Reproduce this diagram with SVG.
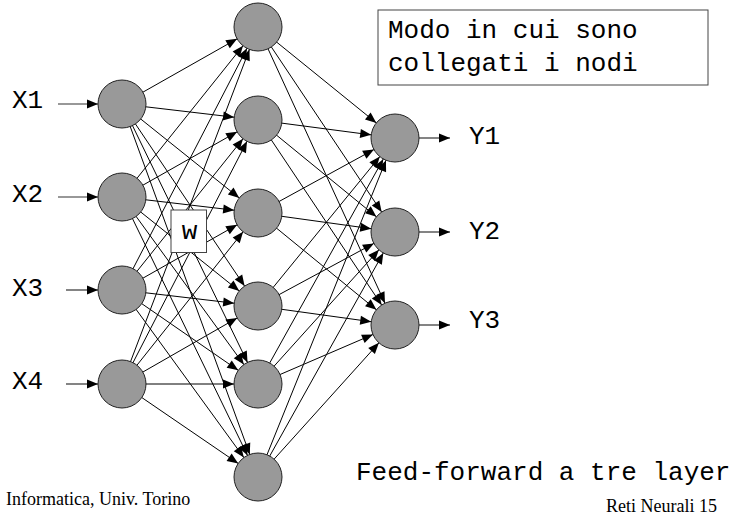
<svg xmlns="http://www.w3.org/2000/svg" width="741" height="517" viewBox="0 0 741 517">
  <style>
    .node { fill: #999999; stroke: #222; stroke-width: 1; }
    .edge { stroke: #000; stroke-width: 1; fill: none; marker-end: url(#head); }
    .io { stroke: #333; stroke-width: 1.2; fill: none; marker-end: url(#tip); }
    .mono { font-family: "Liberation Mono", "Courier New", monospace; font-size: 26px; fill: #000; }
    .serif { font-family: "Liberation Serif", "Times New Roman", serif; font-size: 18px; fill: #000; }
    .box { fill: #fff; stroke: #444; stroke-width: 1; }
  </style>
  <defs>
    <!-- arrowhead drawn 24 units short of the path end, so center-to-center edges stop at the circle rim -->
    <marker id="head" markerUnits="userSpaceOnUse" orient="auto" refX="24" refY="0" markerWidth="12" markerHeight="10" overflow="visible">
      <path d="M0,0 L-11,-4.5 L-11,4.5 Z" fill="#000"/>
    </marker>
    <!-- arrowhead whose tip sits exactly on the path end -->
    <marker id="tip" markerUnits="userSpaceOnUse" orient="auto" refX="0" refY="0" markerWidth="12" markerHeight="10" overflow="visible">
      <path d="M0,0 L-11,-4.5 L-11,4.5 Z" fill="#000"/>
    </marker>
  </defs>

  <rect width="741" height="517" fill="#fff"/>

  <g id="connectors">
    <!-- inputs to input layer -->
    <path class="io" d="M58,104 L98,104"/>
    <path class="io" d="M58,197 L98,197"/>
    <path class="io" d="M66,290 L98,290"/>
    <path class="io" d="M66,384 L98,384"/>
    <!-- input layer to hidden layer -->
    <path class="edge" d="M122,104 L258,27"/>
    <path class="edge" d="M122,104 L258,120"/>
    <path class="edge" d="M122,104 L258,213"/>
    <path class="edge" d="M122,104 L258,306"/>
    <path class="edge" d="M122,104 L258,384"/>
    <path class="edge" d="M122,104 L258,477"/>
    <path class="edge" d="M122,197 L258,27"/>
    <path class="edge" d="M122,197 L258,120"/>
    <path class="edge" d="M122,197 L258,213"/>
    <path class="edge" d="M122,197 L258,306"/>
    <path class="edge" d="M122,197 L258,384"/>
    <path class="edge" d="M122,197 L258,477"/>
    <path class="edge" d="M122,290 L258,27"/>
    <path class="edge" d="M122,290 L258,120"/>
    <path class="edge" d="M122,290 L258,213"/>
    <path class="edge" d="M122,290 L258,306"/>
    <path class="edge" d="M122,290 L258,384"/>
    <path class="edge" d="M122,290 L258,477"/>
    <path class="edge" d="M122,384 L258,27"/>
    <path class="edge" d="M122,384 L258,120"/>
    <path class="edge" d="M122,384 L258,213"/>
    <path class="edge" d="M122,384 L258,306"/>
    <path class="edge" d="M122,384 L258,384"/>
    <path class="edge" d="M122,384 L258,477"/>
    <!-- hidden layer to output layer -->
    <path class="edge" d="M258,27 L395,138"/>
    <path class="edge" d="M258,27 L395,232"/>
    <path class="edge" d="M258,27 L395,325"/>
    <path class="edge" d="M258,120 L395,138"/>
    <path class="edge" d="M258,120 L395,232"/>
    <path class="edge" d="M258,120 L395,325"/>
    <path class="edge" d="M258,213 L395,138"/>
    <path class="edge" d="M258,213 L395,232"/>
    <path class="edge" d="M258,213 L395,325"/>
    <path class="edge" d="M258,306 L395,138"/>
    <path class="edge" d="M258,306 L395,232"/>
    <path class="edge" d="M258,306 L395,325"/>
    <path class="edge" d="M258,384 L395,138"/>
    <path class="edge" d="M258,384 L395,232"/>
    <path class="edge" d="M258,384 L395,325"/>
    <path class="edge" d="M258,477 L395,138"/>
    <path class="edge" d="M258,477 L395,232"/>
    <path class="edge" d="M258,477 L395,325"/>
    <!-- output layer to outputs -->
    <path class="io" d="M419,138 L450,138"/>
    <path class="io" d="M419,232 L450,232"/>
    <path class="io" d="M419,325 L450,325"/>
  </g>

  <!-- input layer -->
  <g id="in1"><circle class="node" cx="122" cy="104" r="24"/><text class="mono" x="12" y="108">X1</text></g>
  <g id="in2"><circle class="node" cx="122" cy="197" r="24"/><text class="mono" x="12" y="202">X2</text></g>
  <g id="in3"><circle class="node" cx="122" cy="290" r="24"/><text class="mono" x="12" y="296">X3</text></g>
  <g id="in4"><circle class="node" cx="122" cy="384" r="24"/><text class="mono" x="12" y="389">X4</text></g>

  <!-- hidden layer -->
  <g id="h1"><circle class="node" cx="258" cy="27" r="24"/></g>
  <g id="h2"><circle class="node" cx="258" cy="120" r="24"/></g>
  <g id="h3"><circle class="node" cx="258" cy="213" r="24"/></g>
  <g id="h4"><circle class="node" cx="258" cy="306" r="24"/></g>
  <g id="h5"><circle class="node" cx="258" cy="384" r="24"/></g>
  <g id="h6"><circle class="node" cx="258" cy="477" r="24"/></g>

  <!-- output layer -->
  <g id="out1"><circle class="node" cx="395" cy="138" r="24"/><text class="mono" x="469" y="144">Y1</text></g>
  <g id="out2"><circle class="node" cx="395" cy="232" r="24"/><text class="mono" x="469" y="239">Y2</text></g>
  <g id="out3"><circle class="node" cx="395" cy="325" r="24"/><text class="mono" x="469" y="328">Y3</text></g>

  <!-- weight label -->
  <g id="weight">
    <rect class="box" x="171" y="210" width="35.5" height="42.5"/>
    <text class="mono" x="189.5" y="239" text-anchor="middle">w</text>
  </g>

  <!-- caption box -->
  <g id="caption">
    <rect class="box" x="378" y="10" width="330" height="75"/>
    <text class="mono" x="388" y="38">Modo in cui sono</text>
    <text class="mono" x="388" y="71">collegati i nodi</text>
  </g>

  <g id="title">
    <text class="mono" x="356" y="480">Feed-forward a tre layer</text>
  </g>

  <g id="footer">
    <text class="serif" x="6" y="505">Informatica, Univ. Torino</text>
    <text class="serif" x="606" y="512">Reti Neurali 15</text>
  </g>
</svg>
